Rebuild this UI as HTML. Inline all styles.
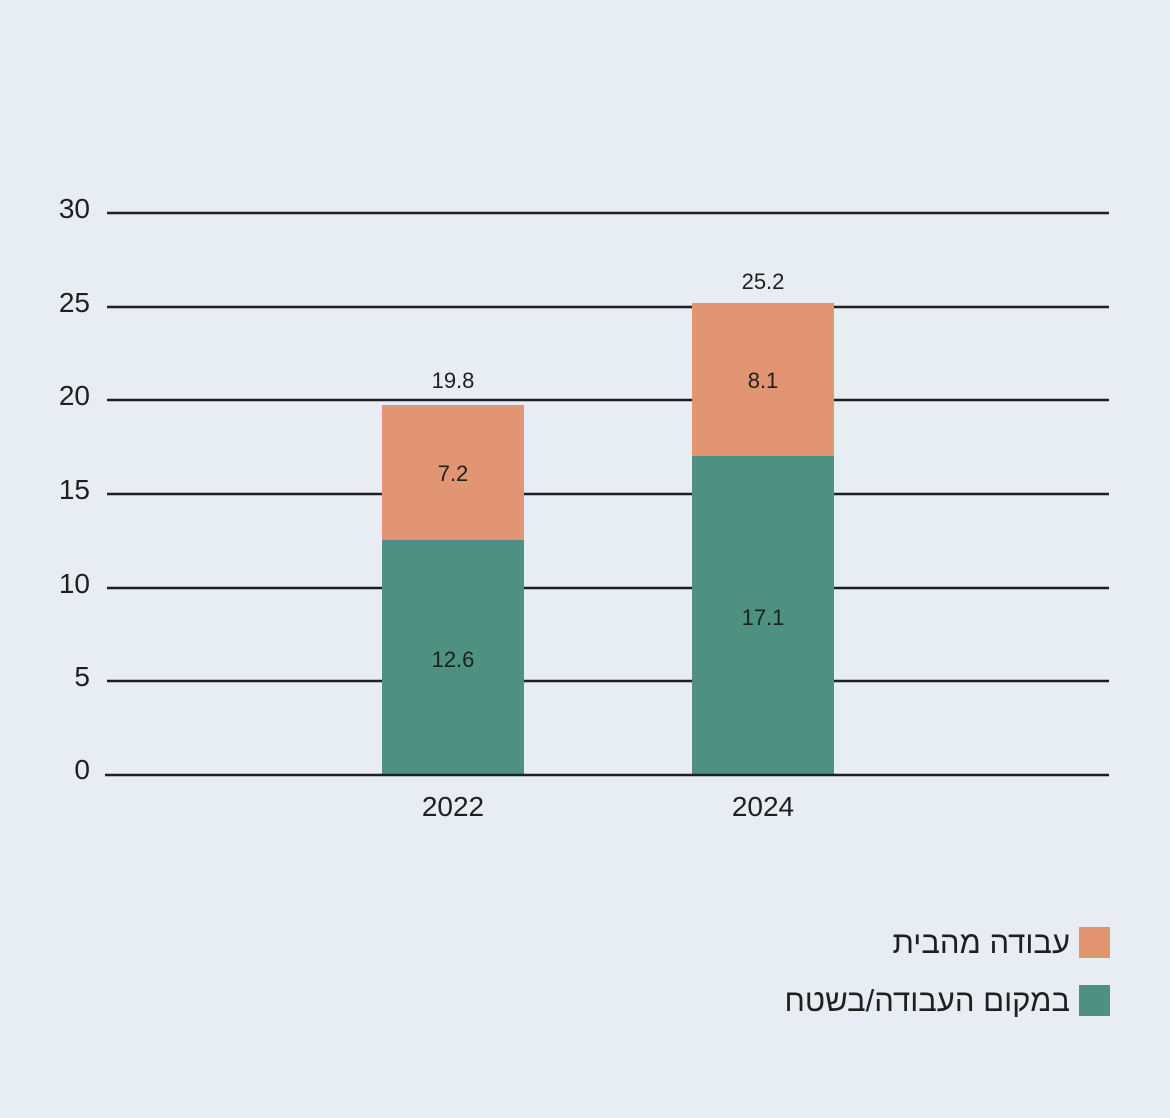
<!DOCTYPE html>
<html><head><meta charset="utf-8"><style>
html,body{margin:0;padding:0;background:#e8ecf3;}
svg{display:block;}
text{font-family:"Liberation Sans","Noto Sans CJK SC",sans-serif;fill:#1f1f1f;}
</style></head><body>
<svg width="1170" height="1118" viewBox="0 0 1170 1118" xmlns="http://www.w3.org/2000/svg">
<rect width="1170" height="1118" fill="#e8ecf3"/>
<g stroke="#1f1f1f" stroke-width="2.5">
<line x1="107" y1="213" x2="1109" y2="213"/>
<line x1="107" y1="307" x2="1109" y2="307"/>
<line x1="107" y1="400" x2="1109" y2="400"/>
<line x1="107" y1="494" x2="1109" y2="494"/>
<line x1="107" y1="588" x2="1109" y2="588"/>
<line x1="107" y1="681" x2="1109" y2="681"/>
</g>
<g font-size="28" text-anchor="end">
<text x="90" y="218">30</text>
<text x="90" y="312">25</text>
<text x="90" y="405">20</text>
<text x="90" y="499">15</text>
<text x="90" y="593">10</text>
<text x="90" y="686">5</text>
<text x="90" y="779">0</text>
</g>
<rect x="382" y="539" width="142" height="236" fill="#4e9180"/>
<rect x="382" y="405" width="142" height="135" fill="#e29572"/>
<rect x="692" y="455" width="142" height="320" fill="#4e9180"/>
<rect x="692" y="303" width="142" height="153" fill="#e29572"/>
<line x1="105" y1="775" x2="1109" y2="775" stroke="#1f1f1f" stroke-width="2.5"/>
<g font-size="22" text-anchor="middle">
<text x="453" y="388">19.8</text>
<text x="453" y="481">7.2</text>
<text x="453" y="667">12.6</text>
<text x="763" y="289">25.2</text>
<text x="763" y="388">8.1</text>
<text x="763" y="625">17.1</text>
</g>
<g font-size="28" text-anchor="middle">
<text x="453" y="816">2022</text>
<text x="763" y="816">2024</text>
</g>
<rect x="1079" y="927" width="31" height="31" fill="#e29572"/>
<rect x="1079" y="985" width="31" height="31" fill="#4e9180"/>
<g font-size="31" font-family="'Liberation Sans','DejaVu Sans',sans-serif">
<text x="1070" y="953" direction="rtl" unicode-bidi="plaintext" text-anchor="start">עבודה מהבית</text>
<text x="1070" y="1011" direction="rtl" unicode-bidi="plaintext" text-anchor="start">במקום העבודה/בשטח</text>
</g>
</svg>
</body></html>
